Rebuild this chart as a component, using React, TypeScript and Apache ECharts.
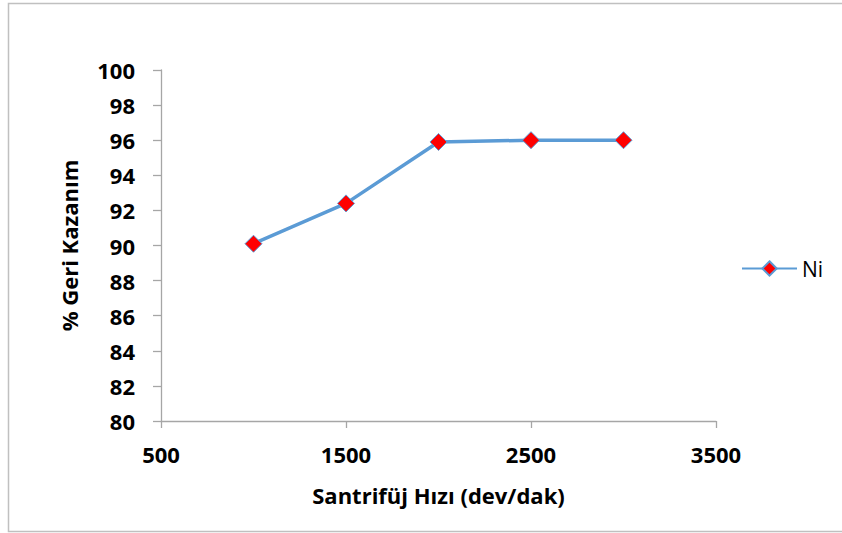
import React, { useEffect, useRef } from "react";
import * as echarts from "echarts";

// Santrifüj hızı (dev/dak) ve Ni geri kazanım yüzdesi
const speeds = [1000, 1500, 2000, 2500, 3000];
const niRecovery = [90.1, 92.4, 95.9, 96.0, 96.0];
const seriesName = "Ni";
const xTitle = "Santrifüj Hızı (dev/dak)";
const yTitle = "% Geri Kazanım";

const FONT = "'Open Sans', Lato, sans-serif";
const AXIS_GRAY = "#a6a6a6";
const LINE_BLUE = "#5b9bd5";

export default function App() {
  const ref = useRef<HTMLDivElement>(null);

  useEffect(() => {
    if (!ref.current) return;
    const chart = echarts.init(ref.current, null, { renderer: "svg" });
    chart.setOption({
      animation: false,
      backgroundColor: "#ffffff",
      graphic: [
        {
          type: "rect",
          shape: { x: 8.5, y: 3.5, width: 840, height: 528 },
          style: { fill: "none", stroke: "#c0c0c0", lineWidth: 1.5 },
          silent: true,
        },
      ],
      grid: { left: 161, top: 70, right: 126, bottom: 112, containLabel: false },
      legend: {
        left: 741,
        top: 258,
        padding: 0,
        itemWidth: 55,
        itemHeight: 18,
        itemGap: 4,
        textStyle: { fontFamily: FONT, fontSize: 21, color: "#000" },
        data: [seriesName],
      },
      xAxis: {
        type: "value",
        min: 500,
        max: 3500,
        interval: 1000,
        name: xTitle,
        nameLocation: "middle",
        nameGap: 63,
        nameTextStyle: { fontFamily: FONT, fontSize: 22, fontWeight: "bold", color: "#000" },
        axisLine: { show: true, onZero: false, lineStyle: { color: AXIS_GRAY, width: 1.3 } },
        axisTick: { show: true, length: 7, lineStyle: { color: AXIS_GRAY, width: 1.3 } },
        axisLabel: {
          fontFamily: FONT,
          fontSize: 22,
          fontWeight: "bold",
          color: "#000",
          margin: 22,
          formatter: (v: number) => String(v),
        },
        splitLine: { show: false },
      },
      yAxis: {
        type: "value",
        min: 80,
        max: 100,
        interval: 2,
        name: yTitle,
        nameLocation: "middle",
        nameGap: 81,
        nameRotate: 90,
        nameTextStyle: { fontFamily: FONT, fontSize: 22, fontWeight: "bold", color: "#000" },
        axisLine: { show: true, lineStyle: { color: AXIS_GRAY, width: 1.3 } },
        axisTick: { show: true, length: 8, lineStyle: { color: AXIS_GRAY, width: 1.3 } },
        axisLabel: {
          fontFamily: FONT,
          fontSize: 22,
          fontWeight: "bold",
          color: "#000",
          margin: 26,
          formatter: (v: number) => String(v),
        },
        splitLine: { show: false },
      },
      series: [
        {
          name: seriesName,
          type: "line",
          data: speeds.map((s, i) => [s, niRecovery[i]]),
          lineStyle: { color: LINE_BLUE, width: 3.5 },
          symbol: "diamond",
          symbolSize: 17,
          itemStyle: { color: "#ff0000", borderColor: LINE_BLUE, borderWidth: 1 },
          emphasis: { disabled: true },
        },
      ],
    });
    return () => chart.dispose();
  }, []);

  return (
    <div
      ref={ref}
      style={{ position: "fixed", left: 0, top: 0, width: 842, height: 533 }}
    />
  );
}
